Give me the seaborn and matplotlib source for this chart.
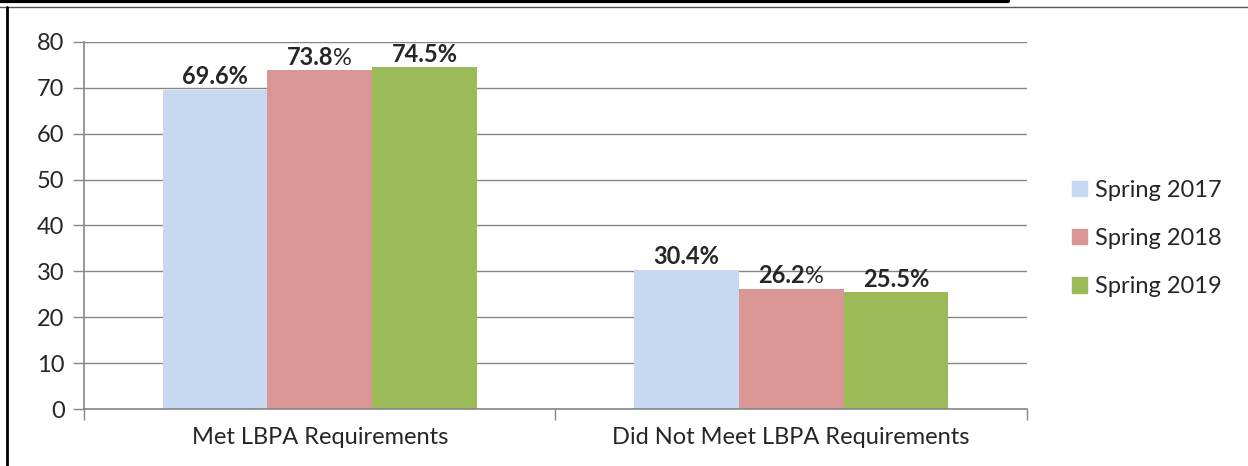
import pandas as pd
import matplotlib.pyplot as plt
import seaborn as sns
from matplotlib.lines import Line2D

# data
categories = ["Met LBPA Requirements", "Did Not Meet LBPA Requirements"]
seasons = ["Spring 2017", "Spring 2018", "Spring 2019"]
spring_2017 = [69.6, 30.4]
spring_2018 = [73.8, 26.2]
spring_2019 = [74.5, 25.5]
# in the original some labels have a non-bold percent sign
bold_pct = {"Spring 2017": True, "Spring 2018": False, "Spring 2019": True}

colors = ["#C6D9F1", "#D99694", "#9BBB59"]

df = pd.DataFrame({
    "category": categories * 3,
    "season": [s for s in seasons for _ in categories],
    "value": spring_2017 + spring_2018 + spring_2019,
})

sns.set_style("white")
plt.rcParams["font.family"] = ["Lato", "DejaVu Sans"]
fs = 17

fig = plt.figure(figsize=(12.48, 4.66), dpi=100)
ax = fig.add_axes([0.0673, 0.1223, 0.7556, 0.7876])

sns.barplot(data=df, x="category", y="value", hue="season", order=categories,
            hue_order=seasons, palette=colors, width=0.666, gap=0,
            saturation=1, edgecolor="none", ax=ax)

ax.set_xlim(-0.5, 1.5)
ax.set_ylim(0, 80)
ax.set_yticks(range(0, 81, 10))
ax.yaxis.grid(True, color="#868686", linewidth=1)
ax.set_axisbelow(True)
for s in ["top", "right"]:
    ax.spines[s].set_visible(False)
for s in ["left", "bottom"]:
    ax.spines[s].set_color("#868686")
    ax.spines[s].set_linewidth(1.2)
ax.tick_params(axis="y", length=8, width=1, color="#868686", labelsize=fs, pad=6, left=True)
ax.set_xticks([-0.5, 0.5, 1.5], minor=True)
ax.tick_params(axis="x", which="major", length=0, labelsize=fs, pad=13)
ax.tick_params(axis="x", which="minor", length=8, width=1, color="#868686", bottom=True)
ax.set_xlabel("")
ax.set_ylabel("")

# value labels
for cont, season in zip(ax.containers, seasons):
    for bar in cont:
        h = bar.get_height()
        x = bar.get_x() + bar.get_width() / 2
        if bold_pct[season]:
            ax.annotate(f"{h:.1f}%", (x, h), xytext=(0, 1), textcoords="offset points",
                        ha="center", va="bottom", fontsize=fs, fontweight="bold")
        else:
            t = ax.annotate(f"{h:.1f}", (x, h), xytext=(-7, 1), textcoords="offset points",
                            ha="center", va="bottom", fontsize=fs, fontweight="bold")
            ax.annotate("%", xy=(1, 0), xycoords=t, ha="left", va="bottom", fontsize=fs)

# legend
handles = [plt.Rectangle((0, 0), 1, 1, color=c) for c in colors]
ax.legend(handles, seasons, loc="center left", bbox_to_anchor=(1.025, 0.465), frameon=False,
          fontsize=fs, handlelength=0.65, handleheight=0.65, handletextpad=0.35,
          labelspacing=1.15)

# page border lines
fig.add_artist(Line2D([0, 0.808], [0.998, 0.998], color="black", linewidth=3))
fig.add_artist(Line2D([0, 1], [0.985, 0.985], color="#555555", linewidth=1))
fig.add_artist(Line2D([0.0055, 0.0055], [0, 0.985], color="black", linewidth=2))

fig.savefig("out.png", dpi=100)
